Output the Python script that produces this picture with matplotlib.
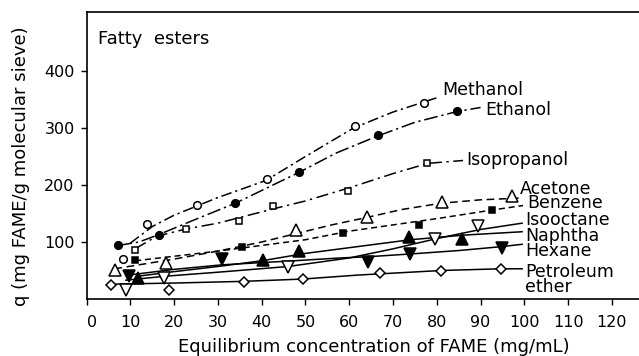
import matplotlib
matplotlib.use("Agg")
import matplotlib.pyplot as plt
import matplotlib.transforms as mtransforms

# Маркеры (значения)
methanol_x = [8.3, 13.8, 25.2, 41.3, 61.4, 77.0]
methanol_y = [70, 131, 165, 210, 304, 343]
ethanol_x = [7.3, 16.5, 34.0, 48.5, 66.5, 84.7]
ethanol_y = [94, 112, 168, 222, 288, 330]
isopropanol_x = [11.1, 22.8, 34.8, 42.6, 59.7, 77.7]
isopropanol_y = [86, 123, 137, 163, 190, 238]
acetone_x = [6.4, 18.1, 47.9, 64.0, 81.2, 97.2]
acetone_y = [51, 64, 121, 144, 171, 180]
benzene_x = [11.1, 35.6, 58.7, 76.0, 92.6]
benzene_y = [68, 92, 116, 130, 156]
isooctane_x = [9.0, 17.8, 46.1, 79.5, 89.5]
isooctane_y = [16, 37, 56, 106, 128]
naphtha_x = [11.7, 40.3, 48.6, 73.6, 85.7]
naphtha_y = [37, 68, 84, 108, 105]
hexane_x = [9.6, 30.9, 64.2, 73.8, 94.9]
hexane_y = [40, 71, 65, 79, 89]
petrol_x = [5.7, 18.8, 35.9, 49.4, 67.1, 81.0, 94.6]
petrol_y = [25, 16, 30, 35, 45, 50, 53]

# Сглаженные кривые
methanol_cx = [10, 15, 20, 30, 41, 50, 61, 70, 80.4]
methanol_cy = [98, 127, 147, 178, 208, 250, 300, 328, 354]
ethanol_cx = [7.3, 12, 16.5, 25, 34, 48.5, 57, 66.5, 75, 84.7, 90]
ethanol_cy = [94, 100, 113, 140, 168, 222, 256, 286, 310, 329, 336]
isopropanol_cx = [11.1, 16, 22.8, 30, 42.6, 50, 60, 70, 78, 86]
isopropanol_cy = [88, 110, 123, 133, 158, 172, 195, 220, 238, 243]
acetone_cx = [6.4, 20, 30, 40, 48, 56, 64, 72, 81, 90, 99]
acetone_cy = [53, 70, 84, 100, 115, 130, 143, 157, 168, 174, 177]
benzene_cx = [11.1, 20, 30, 40, 50, 60, 70, 80, 92.6, 99.7]
benzene_cy = [67, 75, 84, 94, 104, 119, 130, 141, 156, 164]
isooctane_cx = [9, 18, 30, 46, 60, 70, 80, 90, 99.5]
isooctane_cy = [33, 40, 47, 57, 72, 88, 106, 122, 133]
naphtha_cx = [11.7, 20, 30, 40, 50, 60, 74, 86, 99.5]
naphtha_cy = [40, 48, 57, 67, 80, 90, 104, 112, 118]
hexane_cx = [9.6, 20, 31, 45, 58, 64, 74, 85, 95, 99.5]
hexane_cy = [42, 52, 60, 66, 72, 74, 79, 85, 92, 96]
petrol_cx = [5.7, 20, 36, 49.4, 62, 81, 94.6, 99.5]
petrol_cy = [26, 28, 31, 35, 42, 50, 53, 53]

x_ticks = [0, 10, 20, 30, 40, 50, 60, 70, 80, 90, 100, 110, 120]
y_ticks = [100, 200, 300, 400]

fig = plt.figure(figsize=(6.39, 3.56), dpi=100)
ax = fig.add_axes([0.1354, 0.1601, 0.8646, 0.8062])

lw = 1.1
ax.plot(methanol_cx, methanol_cy, color='black', lw=lw, dashes=(7, 2.5, 1.5, 2.5))
ax.plot(ethanol_cx, ethanol_cy, color='black', lw=lw, dashes=(9, 2.5, 1.5, 2.5))
ax.plot(isopropanol_cx, isopropanol_cy, color='black', lw=lw, dashes=(8, 3, 1.5, 3))
ax.plot(acetone_cx, acetone_cy, color='black', lw=lw, dashes=(5, 3))
ax.plot(benzene_cx, benzene_cy, color='black', lw=lw, dashes=(4, 2.5))
ax.plot(isooctane_cx, isooctane_cy, color='black', lw=lw)
ax.plot(naphtha_cx, naphtha_cy, color='black', lw=lw)
ax.plot(hexane_cx, hexane_cy, color='black', lw=lw)
ax.plot(petrol_cx, petrol_cy, color='black', lw=lw)

mk = dict(color='black', linestyle='none', markeredgewidth=1.1, zorder=3)
ax.plot(methanol_x, methanol_y, marker='o', ms=5.5, markerfacecolor='white', **mk)
ax.plot(ethanol_x, ethanol_y, marker='o', ms=5.5, **mk)
ax.plot(isopropanol_x, isopropanol_y, marker='s', ms=5, markerfacecolor='white', **mk)
ax.plot(acetone_x, acetone_y, marker='^', ms=8, markerfacecolor='white', **mk)
ax.plot(benzene_x, benzene_y, marker='s', ms=5, **mk)
ax.plot(isooctane_x, isooctane_y, marker='v', ms=8, markerfacecolor='white', **mk)
ax.plot(naphtha_x, naphtha_y, marker='^', ms=8, **mk)
ax.plot(hexane_x, hexane_y, marker='v', ms=8, **mk)
ax.plot(petrol_x, petrol_y, marker='D', ms=5, markerfacecolor='white', **mk)

# Подписи кривых
fs = 12.5
ax.text(81.2, 367, 'Methanol', fontsize=fs, va='center')
ax.text(91.0, 332, 'Ethanol', fontsize=fs, va='center')
ax.text(86.7, 244, 'Isopropanol', fontsize=fs, va='center')
ax.text(99.0, 193, 'Acetone', fontsize=fs, va='center')
ax.text(100.6, 168, 'Benzene', fontsize=fs, va='center')
ax.text(100.2, 139, 'Isooctane', fontsize=fs, va='center')
ax.text(100.2, 110, 'Naphtha', fontsize=fs, va='center')
ax.text(100.2, 84, 'Hexane', fontsize=fs, va='center')
ax.text(100.2, 47, 'Petroleum', fontsize=fs, va='center')
ax.text(100.2, 21, 'ether', fontsize=fs, va='center')
ax.text(2.7, 456, 'Fatty  esters', fontsize=13, va='center')

ax.set_xlim(0, 126.2)
ax.set_ylim(0, 503.5)
ax.set_xticks(x_ticks)
ax.set_yticks(y_ticks)
ax.tick_params(direction='out', length=4.5, width=1, labelsize=11.5)
ax.tick_params(axis='x', pad=7)
ax.tick_params(axis='y', pad=4)
ax.spines['right'].set_visible(False)
for s in ['left', 'bottom', 'top']:
    ax.spines[s].set_linewidth(1.2)

# Метка "0" сдвинута вправо, как в оригинале
lbl0 = ax.get_xticklabels()[0]
lbl0.set_transform(lbl0.get_transform() + mtransforms.ScaledTranslation(6 / 100, 0, fig.dpi_scale_trans))

ax.set_xlabel('Equilibrium concentration of FAME (mg/mL)', fontsize=13)
ax.set_ylabel('q (mg FAME/g molecular sieve)', fontsize=13)
ax.xaxis.set_label_coords(0.520, -0.135)
ax.yaxis.set_label_coords(-0.103, 0.463)

fig.savefig('out.png', dpi=100)
